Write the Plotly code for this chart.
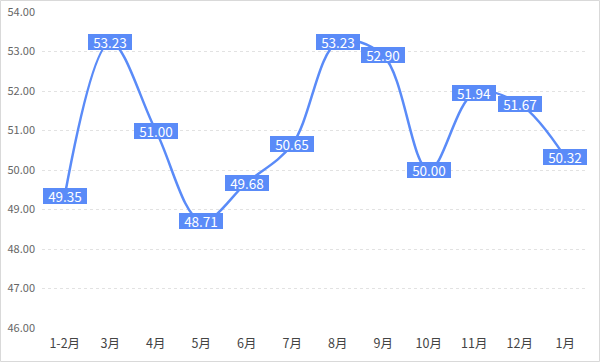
import plotly.graph_objects as go

months = ["1-2月", "3月", "4月", "5月", "6月", "7月", "8月", "9月", "10月", "11月", "12月", "1月"]
values = [49.35, 53.23, 51.00, 48.71, 49.68, 50.65, 53.23, 52.90, 50.00, 51.94, 51.67, 50.32]
y_ticks = [46, 47, 48, 49, 50, 51, 52, 53, 54]

color = "#5a8bf8"
font = "Noto Sans CJK SC, Microsoft YaHei, sans-serif"

fig = go.Figure()
fig.add_trace(go.Scatter(
    x=months, y=values, mode="lines",
    line=dict(color=color, width=2.5, shape="spline", smoothing=1.0),
    hoverinfo="x+y",
))

for m, v in zip(months, values):
    fig.add_annotation(
        x=m, y=v, text=f"{v:.2f}", showarrow=False,
        font=dict(color="white", size=13.5, family=font),
        width=42, height=14,
        bgcolor=color, bordercolor=color, borderwidth=1, borderpad=0,
    )

W, H = 600, 362
ml, mr, mt, mb = 42, 12, 12, 34
pw, ph = W - ml - mr, H - mt - mb
fig.add_shape(
    type="rect", xref="paper", yref="paper",
    x0=(-ml + 0.5) / pw, x1=(pw + mr - 0.5) / pw,
    y0=(-mb + 0.5) / ph, y1=(ph + mt - 0.5) / ph,
    line=dict(color="#d9d9d9", width=1), fillcolor="rgba(0,0,0,0)", layer="below",
)

fig.update_layout(
    width=W, height=H,
    margin=dict(l=ml, r=mr, t=mt, b=mb, autoexpand=False),
    paper_bgcolor="white", plot_bgcolor="white",
    showlegend=False,
    font=dict(family=font),
    xaxis=dict(
        type="category", categoryorder="array", categoryarray=months,
        range=[-0.5, len(months) - 0.5], automargin=False,
        showgrid=False, showline=False, zeroline=False, ticks="",
        ticklabelstandoff=6,
        tickfont=dict(size=12.5, color="#444"),
    ),
    yaxis=dict(
        range=[46, 54], tickvals=y_ticks, automargin=False,
        ticktext=[f"{t:.2f}" for t in y_ticks],
        showgrid=True, gridcolor="#e2e2e2", griddash="3px,3px", gridwidth=1,
        zeroline=False, showline=False, ticks="",
        ticklabelstandoff=6,
        tickfont=dict(size=11, color="#666"),
    ),
)

fig.write_html(
    "out.html",
    config={"displayModeBar": False},
    post_script="document.body.style.margin='0';document.body.style.overflow='hidden';",
)
